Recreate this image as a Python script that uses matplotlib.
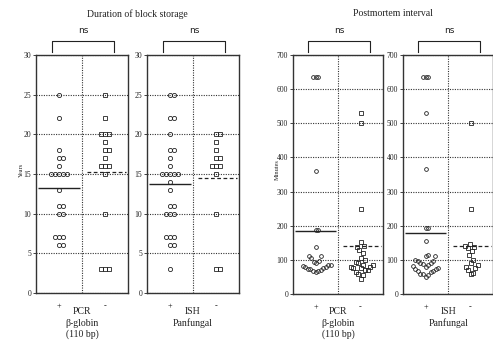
import matplotlib
matplotlib.use("Agg")
import matplotlib.pyplot as plt
import numpy as np

plt.rcParams['font.family'] = ['Liberation Serif', 'DejaVu Serif']

# years of block storage, "+" and "-" groups
years_pcr_pos = [25, 22, 18, 17, 17, 16, 15, 15, 15, 15, 15, 13, 11, 11, 10, 10, 7, 7, 7, 6, 6]
years_pcr_neg = [25, 22, 20, 20, 20, 19, 18, 18, 17, 16, 16, 16, 15, 10, 3, 3, 3]
years_ish_pos = [25, 25, 22, 22, 20, 18, 18, 17, 16, 15, 15, 15, 15, 15, 14, 13,
                 11, 11, 10, 10, 10, 7, 7, 7, 6, 6, 3]
years_ish_neg = [20, 20, 19, 18, 17, 17, 16, 16, 16, 15, 10, 3, 3]

# postmortem interval in minutes
minutes_pcr_pos = [635, 635, 635, 360, 187, 187, 137, 110, 110, 105,
                   98, 94, 90, 86, 82, 78, 74, 70, 66, 64, 68, 72, 76, 80, 84]
minutes_pcr_neg = [530, 500, 250, 152, 142, 138, 130, 120, 105, 100, 95, 90, 85, 85,
                   80, 80, 75, 75, 70, 70, 65, 60, 55, 45]
minutes_ish_pos = [635, 635, 635, 530, 365, 193, 193, 155, 115, 110, 110,
                   100, 96, 92, 88, 84, 80, 76, 72, 68, 64, 60, 55, 50,
                   58, 66, 74, 82, 90, 98]
minutes_ish_neg = [500, 250, 145, 140, 138, 135, 125, 115, 100, 90, 85, 80, 75, 70, 62, 60]

# group means: solid line for "+", dashed for "-"
years_pcr_means = [13.2, 15.3]
years_ish_means = [13.7, 14.5]
minutes_pcr_means = [185, 140]
minutes_ish_means = [180, 140]

W, H = 493, 340


def swarm(vals, ypx, xpx, dw, dh):
    # beeswarm with elliptical markers (dw wide, dh tall, in pixels)
    vals = np.asarray(vals, float)
    order = np.argsort(vals, kind='stable')
    placed = []
    offs = np.zeros(len(vals))
    for i in order:
        y = vals[i] * ypx * dw / dh
        cands = [0.0]
        for px, py in placed:
            dy = abs(py - y)
            if dy < dw:
                dx = np.sqrt(dw * dw - dy * dy)
                cands += [px + dx, px - dx]
        cands.sort(key=abs)
        for c in cands:
            if all((c - px) ** 2 + (y - py) ** 2 >= dw * dw - 1e-6 for px, py in placed):
                break
        placed.append((c, y))
        offs[i] = c / xpx
    return offs


def panel(rect, pos, neg, means, ymax, step, dw, dh, ms):
    ax = fig.add_axes(rect)
    ax.set_xlim(0, 2)
    ax.set_ylim(0, ymax)
    ax.set_yticks(np.arange(0, ymax + 1, step))
    ax.set_xticks([])
    ax.grid(axis='y', ls=(0, (1, 1.2)), color='#333', lw=0.8)
    ax.axvline(1, ls=(0, (1, 1.2)), color='#333', lw=0.8)
    for s in ax.spines.values():
        s.set_color('#333')
        s.set_linewidth(1.0)
    ax.tick_params(axis='y', labelsize=5.5, length=2, width=0.6, pad=1.5, colors='#222')
    ypx = rect[3] * H / ymax
    xpx = rect[2] * W / 2
    for vals, xc, mk in ((pos, 0.5, 'o'), (neg, 1.5, 's')):
        off = swarm(vals, ypx, xpx, dw, dh)
        ax.plot(xc + off, vals, ls='none', marker=mk, ms=ms, mfc='none',
                mec='#222', mew=0.6, clip_on=False, zorder=3)
    ax.hlines(means[0], 0.05, 0.95, color='#222', lw=1.0, zorder=4)
    ax.hlines(means[1], 1.1, 1.95, color='#222', lw=0.9, ls=(0, (3, 2)), zorder=4)
    # significance bracket
    ax.plot([0.17, 0.17, 0.85, 0.85], [1.013, 1.059, 1.059, 1.013],
            transform=ax.transAxes, color='#222', lw=0.8, clip_on=False)
    ax.text(0.51, 1.085, 'ns', transform=ax.transAxes, ha='center', va='bottom',
            fontsize=6.5, family=['DejaVu Sans'], color='#222')
    ax.text(0.25, -0.04, '+', transform=ax.transAxes, ha='center', va='top', fontsize=6)
    ax.text(0.75, -0.04, '-', transform=ax.transAxes, ha='center', va='top', fontsize=6)
    return ax


def frac(x0, x1, y0, y1):
    return [x0 / W, 1 - y1 / H, (x1 - x0) / W, (y1 - y0) / H]


fig = plt.figure(figsize=(W / 100, H / 100), dpi=100)

panel(frac(36, 128, 55, 293), years_pcr_pos, years_pcr_neg, years_pcr_means, 30, 5, 4.0, 7.0, 3.0)
panel(frac(147, 239, 55, 293), years_ish_pos, years_ish_neg, years_ish_means, 30, 5, 4.0, 7.0, 3.0)
panel(frac(293, 383, 55, 294), minutes_pcr_pos, minutes_pcr_neg, minutes_pcr_means,
      700, 100, 2.6, 9.5, 2.7)
panel(frac(403, 493, 55, 294), minutes_ish_pos, minutes_ish_neg, minutes_ish_means,
      700, 100, 2.6, 9.5, 2.7)


def ftext(x, y, s, **kw):
    fig.text(x / W, 1 - y / H, s, ha='center', va='center', color='#222', **kw)


ftext(137, 14, 'Duration of block storage', fontsize=7)
ftext(393, 14, 'Postmortem interval', fontsize=7)
ftext(21, 170, 'Years', fontsize=4.5, rotation=90)
ftext(277, 170, 'Minutes', fontsize=4.5, rotation=90)

ftext(82, 312, 'PCR', fontsize=7)
ftext(82, 323, 'β-globin', fontsize=7)
ftext(82, 334, '(110 bp)', fontsize=7)
ftext(193, 312, 'ISH', fontsize=7)
ftext(193, 323, 'Panfungal', fontsize=7)
ftext(338, 312, 'PCR', fontsize=7)
ftext(338, 323, 'β-globin', fontsize=7)
ftext(338, 334, '(110 bp)', fontsize=7)
ftext(449, 312, 'ISH', fontsize=7)
ftext(449, 323, 'Panfungal', fontsize=7)

fig.savefig('out.png', dpi=100)
